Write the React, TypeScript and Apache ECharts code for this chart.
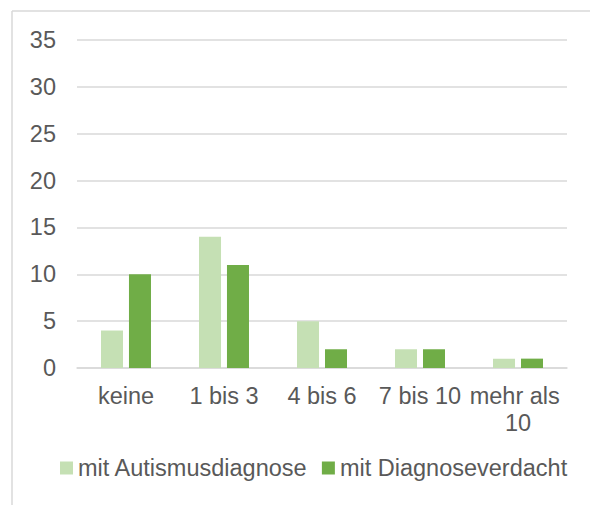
import React, { useEffect, useRef } from "react";
import * as echarts from "echarts";

const categories = ["keine", "1 bis 3", "4 bis 6", "7 bis 10", "mehr als 10"];
const seriesNames = ["mit Autismusdiagnose", "mit Diagnoseverdacht"];
const autismus = [4, 14, 5, 2, 1];
const verdacht = [10, 11, 2, 2, 1];
const yMin = 0;
const yMax = 35;
const yStep = 5;

export default function App() {
  const ref = useRef<HTMLDivElement>(null);
  useEffect(() => {
    if (!ref.current) return;
    const chart = echarts.init(ref.current, undefined, { renderer: "svg" });
    const font = "Liberation Sans, Arial, sans-serif";
    chart.setOption({
      animation: false,
      backgroundColor: "#ffffff",
      textStyle: { fontFamily: font },
      grid: { left: 77, right: 23, top: 40, bottom: 137, containLabel: false },
      graphic: [
        { type: "line", shape: { x1: 12, y1: 11, x2: 12, y2: 505 }, style: { stroke: "#d9d9d9", lineWidth: 1.5 } },
        { type: "line", shape: { x1: 12, y1: 11, x2: 590, y2: 11 }, style: { stroke: "#d9d9d9", lineWidth: 1.5 } },
      ],
      legend: {
        left: 55,
        top: 451,
        itemWidth: 13,
        itemHeight: 13,
        itemGap: 14,
        icon: "rect",
        textStyle: { fontSize: 23.5, color: "#595959", fontFamily: font },
        data: seriesNames,
      },
      xAxis: {
        type: "category",
        data: categories,
        axisLine: { lineStyle: { color: "#d9d9d9", width: 1.5 } },
        axisTick: { show: false },
        axisLabel: {
          color: "#595959",
          fontSize: 23.5,
          fontFamily: font,
          margin: 14,
          width: 98,
          overflow: "break",
          lineHeight: 27,
          interval: 0,
        },
      },
      yAxis: {
        type: "value",
        min: yMin,
        max: yMax,
        interval: yStep,
        axisLine: { show: false },
        axisTick: { show: false },
        splitLine: { lineStyle: { color: "#d9d9d9", width: 1.5 } },
        axisLabel: { color: "#595959", fontSize: 23.5, fontFamily: font, margin: 21 },
      },
      series: [
        {
          name: seriesNames[0],
          type: "bar",
          data: autismus,
          itemStyle: { color: "#c5e0b4" },
          barGap: "27%",
          barCategoryGap: "49%",
        },
        {
          name: seriesNames[1],
          type: "bar",
          data: verdacht,
          itemStyle: { color: "#70ad47" },
          barGap: "27%",
          barCategoryGap: "49%",
        },
      ],
    });
    return () => chart.dispose();
  }, []);
  return (
    <div
      ref={ref}
      style={{ position: "fixed", left: 0, top: 0, width: 590, height: 505, background: "#fff" }}
    />
  );
}
